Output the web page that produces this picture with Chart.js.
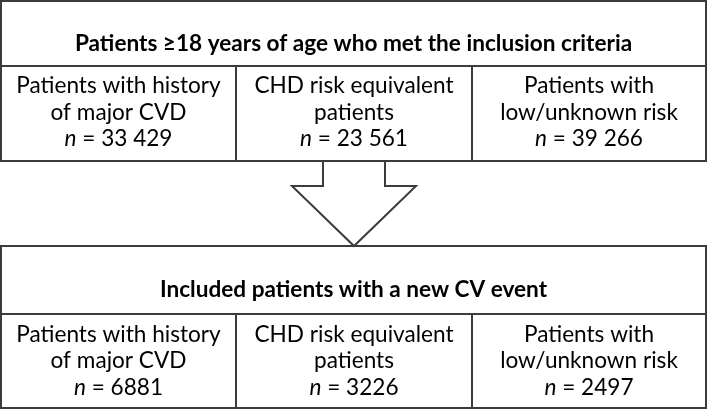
<!DOCTYPE html>
<html>
<head>
<meta charset="utf-8">
<script src="https://cdn.jsdelivr.net/npm/chart.js@4/dist/chart.umd.min.js"></script>
<style>
  body { margin: 0; background: #fff; }
  #wrap { width: 709px; height: 410px; }
</style>
</head>
<body>
<div id="wrap"><canvas id="flowChart" width="709" height="410"></canvas></div>
<script>
// data
const stageTitles = ['Patients \u226518 years of age who met the inclusion criteria',
    'Included patients with a new CV event'];
const groupLabels = [['Patients with history', 'of major CVD'],
    ['CHD risk equivalent', 'patients'],
    ['Patients with', 'low/unknown risk']];
const inclusionCounts = [33429, 23561, 39266];
const eventCounts = [6881, 3226, 2497];

// layout, in scale units (same as the 709x410 frame)
const colEdges = [1, 236, 472, 706];
const stages = [
    {top: 1, split: 66, bottom: 161, titleY: 51, lineY: [93, 120, 146], counts: inclusionCounts},
    {top: 246, split: 314, bottom: 408, titleY: 297, lineY: [342, 368, 395], counts: eventCounts}
];
const arrow = {shaftL: 323, shaftR: 385, shaftTop: 161, neck: 186, headL: 292, headR: 416, tipX: 354, tipY: 246};

const FONT = 'Lato, "Open Sans", sans-serif';
const SIZE = 22.6;
const LINE = '#3c3c3c';

function fmt(n) {
    let s = String(n);
    if (n >= 10000) s = s.slice(0, s.length - 3) + ' ' + s.slice(-3);
    return s;
}

const flowPlugin = {
    id: 'flow',
    afterDraw(chart) {
        const ctx = chart.ctx;
        const xs = chart.scales.x, ys = chart.scales.y;
        const px = v => xs.getPixelForValue(v);
        const py = v => ys.getPixelForValue(v);
        const regular = SIZE + 'px ' + FONT;
        const italic = 'italic ' + SIZE + 'px ' + FONT;
        ctx.save();
        ctx.strokeStyle = LINE;
        ctx.lineWidth = 2;

        // arrow between the two stages
        ctx.beginPath();
        ctx.moveTo(px(arrow.shaftL), py(arrow.shaftTop));
        ctx.lineTo(px(arrow.shaftL), py(arrow.neck));
        ctx.lineTo(px(arrow.headL), py(arrow.neck));
        ctx.lineTo(px(arrow.tipX), py(arrow.tipY));
        ctx.lineTo(px(arrow.headR), py(arrow.neck));
        ctx.lineTo(px(arrow.shaftR), py(arrow.neck));
        ctx.lineTo(px(arrow.shaftR), py(arrow.shaftTop));
        ctx.stroke();

        stages.forEach((st, si) => {
            const left = px(colEdges[0]), right = px(colEdges[3]);
            ctx.strokeRect(left, py(st.top), right - left, py(st.bottom) - py(st.top));
            ctx.beginPath();
            ctx.moveTo(left, py(st.split));
            ctx.lineTo(right, py(st.split));
            for (let c = 1; c < 3; c++) {
                ctx.moveTo(px(colEdges[c]), py(st.split));
                ctx.lineTo(px(colEdges[c]), py(st.bottom));
            }
            ctx.stroke();

            ctx.fillStyle = '#000';
            ctx.textAlign = 'center';
            ctx.textBaseline = 'alphabetic';
            ctx.font = 'bold ' + SIZE + 'px ' + FONT;
            ctx.fillText(stageTitles[si], (left + right) / 2, py(st.titleY));

            for (let c = 0; c < 3; c++) {
                const cx = (px(colEdges[c]) + px(colEdges[c + 1])) / 2;
                ctx.font = regular;
                ctx.textAlign = 'center';
                groupLabels[c].forEach((t, li) => ctx.fillText(t, cx, py(st.lineY[li])));
                // "n = value" with italic n
                ctx.font = italic;
                const nW = ctx.measureText('n').width;
                ctx.font = regular;
                const rest = ' = ' + fmt(st.counts[c]);
                const rW = ctx.measureText(rest).width;
                const x0 = cx - (nW + rW) / 2;
                ctx.textAlign = 'left';
                ctx.font = italic;
                ctx.fillText('n', x0, py(st.lineY[2]));
                ctx.font = regular;
                ctx.fillText(rest, x0 + nW, py(st.lineY[2]));
            }
        });
        ctx.restore();
    }
};

new Chart(document.getElementById('flowChart'), {
    type: 'scatter',
    data: {datasets: [{data: [], pointRadius: 0}]},
    options: {
        responsive: false,
        animation: false,
        layout: {padding: 0},
        plugins: {legend: {display: false}, tooltip: {enabled: false}},
        scales: {
            x: {type: 'linear', min: 0, max: 709, display: false},
            y: {type: 'linear', min: 0, max: 410, reverse: true, display: false}
        }
    },
    plugins: [flowPlugin]
});
</script>
</body>
</html>
